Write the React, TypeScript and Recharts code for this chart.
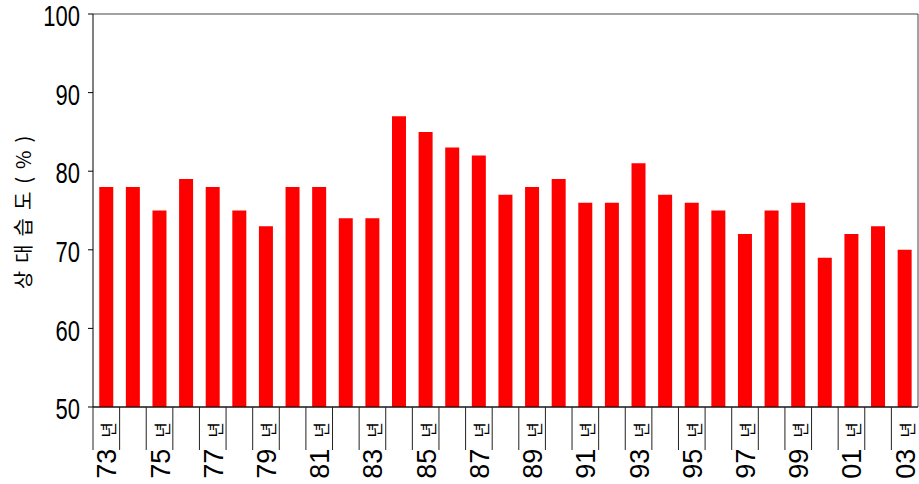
import { BarChart, Bar, XAxis, YAxis, CartesianGrid } from 'recharts';

const years = [
  '73', '74', '75', '76', '77', '78', '79', '80', '81', '82', '83', '84', '85', '86', '87', '88',
  '89', '90', '91', '92', '93', '94', '95', '96', '97', '98', '99', '00', '01', '02', '03',
];
const humidity = [
  78, 78, 75, 79, 78, 75, 73, 78, 78, 74, 74, 87, 85, 83, 82, 77,
  78, 79, 76, 76, 81, 77, 76, 75, 72, 75, 76, 69, 72, 73, 70,
];
// every other year gets a label, as in the original
const yearLabels = [
  '73', '', '75', '', '77', '', '79', '', '81', '', '83', '', '85', '', '87', '',
  '89', '', '91', '', '93', '', '95', '', '97', '', '99', '', '01', '', '03',
];
const yTicks = [50, 60, 70, 80, 90, 100];

const data = years.map((year, i) => ({ year, value: humidity[i], label: yearLabels[i] }));

const numFont = '"Liberation Sans Narrow", "Liberation Sans", Arial, sans-serif';
const krFont = '"Noto Sans CJK KR", sans-serif';

function YearTick(props: any) {
  const { x, y, payload, index } = props;
  const half = payload?.offset ?? 13.3;
  const label = yearLabels[index] ?? '';
  return (
    <g>
      <line x1={x - half} x2={x - half} y1={y} y2={y + 43} stroke="#222" strokeWidth={1} />
      {label && (
        <text
          transform={`translate(${x + 1},${y + 15}) rotate(-90)`}
          textAnchor="end"
          dominantBaseline="central"
          fill="#000"
        >
          <tspan fontFamily={numFont} fontSize={27}>{label}</tspan>
          <tspan fontFamily={krFont} fontSize={17} dx={11}>년</tspan>
        </text>
      )}
    </g>
  );
}

function ValueTick(props: any) {
  const { x, y, payload } = props;
  return (
    <text
      transform={`translate(${x},${y + 2}) scale(1,1.35)`}
      textAnchor="end"
      dominantBaseline="central"
      fontFamily={numFont}
      fontSize={22}
      fill="#000"
    >
      {payload.value}
    </text>
  );
}

export default function App() {
  return (
    <div style={{ position: 'absolute', left: 0, top: 0, width: 919, height: 484, background: '#fff' }}>
      <BarChart
        width={919}
        height={484}
        data={data}
        margin={{ top: 14, right: 0, left: 0, bottom: 0 }}
        barCategoryGap="23.5%"
      >
        <CartesianGrid horizontal vertical={false} stroke="#444" />
        <XAxis
          dataKey="year"
          height={77}
          interval={0}
          tickLine={false}
          tickSize={0}
          tickMargin={0}
          tick={<YearTick />}
          axisLine={{ stroke: '#000' }}
        />
        <YAxis
          yAxisId="left"
          width={93}
          domain={[50, 100]}
          ticks={yTicks}
          allowDataOverflow
          tickSize={5}
          tickMargin={8}
          tick={<ValueTick />}
          axisLine={{ stroke: '#000' }}
          tickLine={{ stroke: '#000' }}
          label={{
            content: ({ viewBox }: any) => (
              <text
                transform={`translate(${viewBox.x + 22},${viewBox.y + viewBox.height / 2 - 2}) rotate(-90)`}
                textAnchor="middle"
                dominantBaseline="central"
                fontFamily={krFont}
                fontSize={20}
                letterSpacing={8}
                fill="#000"
              >
                상대습도(%)
              </text>
            ),
          }}
        />
        <YAxis
          yAxisId="right"
          orientation="right"
          width={1}
          domain={[50, 100]}
          tick={false}
          tickLine={false}
          axisLine={{ stroke: '#444' }}
        />
        <Bar yAxisId="left" dataKey="value" fill="#ff0000" isAnimationActive={false} />
      </BarChart>
    </div>
  );
}
